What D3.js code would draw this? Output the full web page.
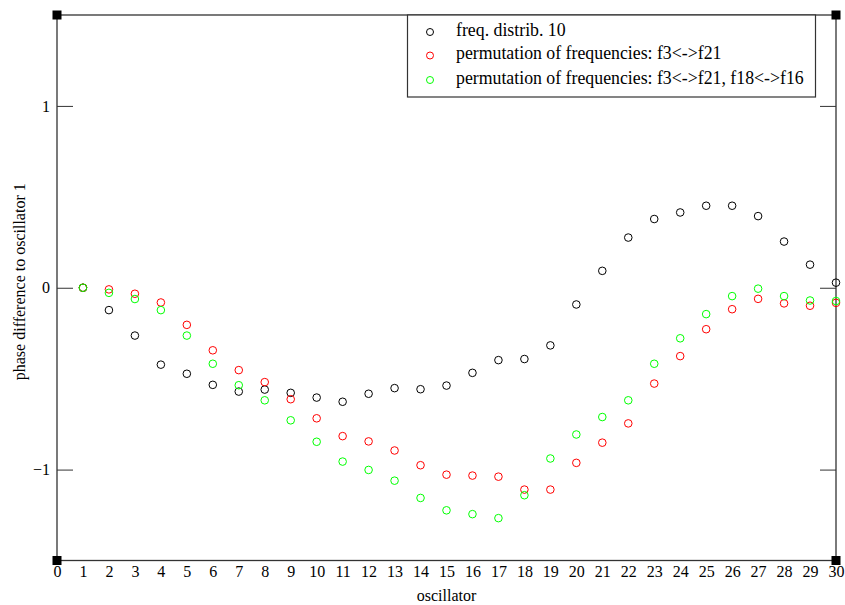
<!DOCTYPE html>
<html>
<head>
<meta charset="utf-8">
<script src="https://cdn.jsdelivr.net/npm/d3@7"></script>
<style>
  body { margin: 0; background: #fff; }
  text { font-family: "Liberation Serif", "DejaVu Serif", serif; fill: #000; }
</style>
</head>
<body>
<div id="chart"></div>
<script>
let oscillators = d3.range(1, 31);

let freqDistrib = [0, -0.123, -0.263, -0.423, -0.473, -0.534, -0.571, -0.56, -0.578, -0.604,
  -0.627, -0.583, -0.552, -0.558, -0.538, -0.468, -0.398, -0.392, -0.317, -0.092,
  0.093, 0.276, 0.378, 0.414, 0.451, 0.451, 0.394, 0.254, 0.127, 0.028];

let perm1 = [0, -0.009, -0.033, -0.081, -0.204, -0.344, -0.453, -0.519, -0.613, -0.718,
  -0.816, -0.845, -0.895, -0.976, -1.028, -1.033, -1.039, -1.11, -1.11, -0.963,
  -0.852, -0.746, -0.527, -0.376, -0.228, -0.118, -0.061, -0.086, -0.099, -0.083];

let perm2 = [0, -0.028, -0.062, -0.123, -0.263, -0.418, -0.536, -0.619, -0.729, -0.847,
  -0.956, -1.002, -1.061, -1.156, -1.224, -1.245, -1.267, -1.141, -0.939, -0.807,
  -0.711, -0.619, -0.418, -0.278, -0.145, -0.046, -0.005, -0.046, -0.07, -0.073];

let seriesNames = [
  'freq. distrib. 10',
  'permutation of frequencies: f3<->f21',
  'permutation of frequencies: f3<->f21, f18<->f16'
];
let seriesColors = ['#000000', '#ff0000', '#00ff00'];
let seriesValues = [freqDistrib, perm1, perm2];

let xTicks = d3.range(0, 31);
let yTicks = [-1, 0, 1];

let width = 845;
let height = 605;
let margin = {top: 15, right: 9, bottom: 44.5, left: 57};

let x = d3.scaleLinear()
  .domain([0, 30])
  .range([margin.left, width - margin.right]);

let y = d3.scaleLinear()
  .domain([-1.5, 1.5])
  .range([height - margin.bottom, margin.top]);

const svg = d3.select('#chart').append('svg')
  .attr('width', width)
  .attr('height', height);

// x axis: labels only
svg.append('g')
  .attr('transform', `translate(0, ${height - margin.bottom})`)
  .call(d3.axisBottom(x).tickValues(xTicks).tickSize(0).tickPadding(5).tickFormat(d3.format('d')))
  .call(g => g.select('.domain').remove())
  .call(g => g.selectAll('text').attr('font-size', 16).attr('font-family', null));

// y axis left, inward ticks
svg.append('g')
  .attr('transform', `translate(${margin.left}, 0)`)
  .call(d3.axisRight(y).tickValues(yTicks).tickSize(16).tickFormat(d3.format('d')))
  .call(g => g.select('.domain').remove())
  .call(g => g.selectAll('line').attr('stroke', '#333'))
  .call(g => g.selectAll('text')
    .attr('x', -7)
    .attr('text-anchor', 'end')
    .attr('font-size', 16)
    .attr('font-family', null));

// y axis right, inward ticks only
svg.append('g')
  .attr('transform', `translate(${width - margin.right}, 0)`)
  .call(d3.axisLeft(y).tickValues(yTicks).tickSize(16).tickFormat(''))
  .call(g => g.select('.domain').remove())
  .call(g => g.selectAll('line').attr('stroke', '#333'));

// frame
svg.append('rect')
  .attr('x', x(0))
  .attr('y', y(1.5))
  .attr('width', x(30) - x(0))
  .attr('height', y(-1.5) - y(1.5))
  .attr('fill', 'none')
  .attr('stroke', '#333')
  .attr('stroke-width', 1.3);

// corner squares
let corners = [[0, 1.5], [30, 1.5], [0, -1.5], [30, -1.5]];
svg.append('g').selectAll('rect')
  .data(corners)
  .join('rect')
  .attr('x', d => x(d[0]) - 4.5)
  .attr('y', d => y(d[1]) - 4.5)
  .attr('width', 9)
  .attr('height', 9)
  .attr('fill', '#000');

// axis titles
svg.append('text')
  .attr('x', (x(0) + x(30)) / 2)
  .attr('y', 601)
  .attr('text-anchor', 'middle')
  .attr('font-size', 16)
  .text('oscillator');

svg.append('text')
  .attr('transform', `translate(25, ${y(0) - 6}) rotate(-90)`)
  .attr('text-anchor', 'middle')
  .attr('font-size', 16)
  .text('phase difference to oscillator 1');

// points
seriesValues.forEach((vals, i) => {
  svg.append('g').selectAll('circle')
    .data(vals)
    .join('circle')
    .attr('cx', (d, j) => x(oscillators[j]))
    .attr('cy', d => y(d))
    .attr('r', 3.8)
    .attr('fill', 'none')
    .attr('stroke', seriesColors[i])
    .attr('stroke-width', 1);
});

// legend
let legend = svg.append('g');
legend.append('rect')
  .attr('x', 407.5)
  .attr('y', y(1.5))
  .attr('width', 408)
  .attr('height', 82)
  .attr('fill', '#fff')
  .attr('stroke', '#333')
  .attr('stroke-width', 1.2);

let rowY = [32, 55.5, 80];
seriesNames.forEach((name, i) => {
  legend.append('circle')
    .attr('cx', 430)
    .attr('cy', rowY[i])
    .attr('r', 3.5)
    .attr('fill', 'none')
    .attr('stroke', seriesColors[i]);
  legend.append('text')
    .attr('x', 456)
    .attr('y', rowY[i] + 3.5)
    .attr('font-size', 17.8)
    .text(name);
});
</script>
</body>
</html>
